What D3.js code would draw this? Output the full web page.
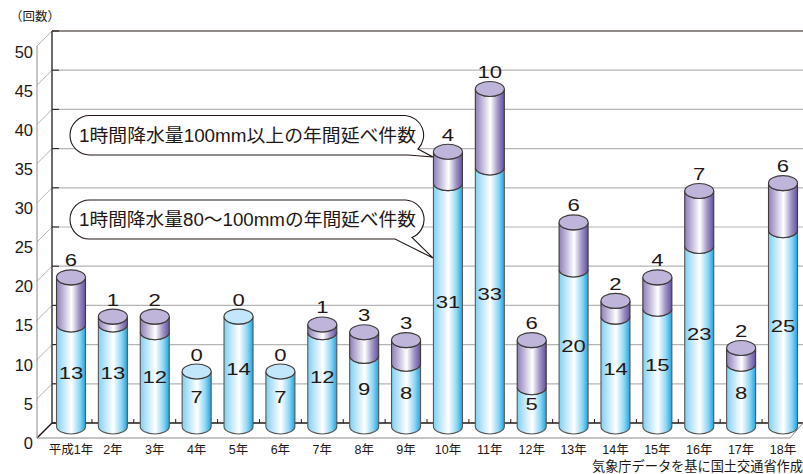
<!DOCTYPE html>
<html>
<head>
<meta charset="utf-8">
<script src="https://cdn.jsdelivr.net/npm/d3@7"></script>
<style>
  body { margin: 0; background: #fff; }
  svg { display: block; }
  text { font-family: "Liberation Sans", "Noto Sans CJK JP", sans-serif; fill: #231815; }
</style>
</head>
<body>
<svg id="chart"></svg>
<script>
var years = ["平成1年", "2年", "3年", "4年", "5年", "6年", "7年", "8年", "9年", "10年", "11年", "12年", "13年", "14年", "15年", "16年", "17年", "18年"];
var lower = [13, 13, 12, 7, 14, 7, 12, 9, 8, 31, 33, 5, 20, 14, 15, 23, 8, 25];
var upper = [6, 1, 2, 0, 0, 0, 1, 3, 3, 4, 10, 6, 6, 2, 4, 7, 2, 6];
var yTicks = [0, 5, 10, 15, 20, 25, 30, 35, 40, 45, 50];
var calloutTop = "1時間降水量100mm以上の年間延べ件数";
var calloutLow = "1時間降水量80〜100mmの年間延べ件数";
var unitLabel = "（回数）";
var sourceLabel = "気象庁データを基に国土交通省作成";

var svgWidth = 803, svgHeight = 474;
var svg = d3.select("#chart").attr("width", svgWidth).attr("height", svgHeight);

var wallX = 52, sideX = 37, depth = 15;
var rx = 14.5, ry = 7.5;

// back wall scale, bars sit a little in front of it
var yWall = d3.scaleLinear().domain([0, 50]).range([423, 31]);
var yBar = d3.scaleLinear().domain([0, 50]).range([426.5, 34]);
var x = d3.scalePoint().domain(years).range([71, 783]);

// gradients
var defs = svg.append("defs");
function addGrad(id, stops) {
  var g = defs.append("linearGradient").attr("id", id);
  stops.forEach(function (s) {
    g.append("stop").attr("offset", s[0]).attr("stop-color", s[1]);
  });
}
addGrad("blue", [[0, "#7fd0f2"], [0.2, "#b4e3f8"], [0.52, "#ffffff"], [0.8, "#8ed6f5"], [1, "#1ea5de"]]);
addGrad("purple", [[0, "#8f80b8"], [0.2, "#b9aed4"], [0.52, "#ffffff"], [0.78, "#a094c4"], [1, "#6350a0"]]);

// grid + walls
var grid = svg.append("g");
grid.selectAll("line.grid")
  .data(yTicks.filter(function (d) { return d > 0; }))
  .enter().append("line")
  .attr("x1", wallX).attr("x2", svgWidth)
  .attr("y1", function (d) { return yWall(d); })
  .attr("y2", function (d) { return yWall(d); })
  .attr("stroke", function (d) { return d == 50 ? "#231815" : "#b5b5b5"; })
  .attr("stroke-width", 1.2);

grid.selectAll("line.diag")
  .data(yTicks)
  .enter().append("line")
  .attr("x1", sideX).attr("x2", wallX)
  .attr("y1", function (d) { return yWall(d) + depth; })
  .attr("y2", function (d) { return yWall(d); })
  .attr("stroke", function (d) { return d == 0 ? "#231815" : "#b5b5b5"; })
  .attr("stroke-width", function (d) { return d == 0 ? 1.5 : 1; });

grid.selectAll("line.tick")
  .data(yTicks)
  .enter().append("line")
  .attr("x1", wallX).attr("x2", wallX + 7)
  .attr("y1", function (d) { return yWall(d); })
  .attr("y2", function (d) { return yWall(d); })
  .attr("stroke", "#231815").attr("stroke-width", 1);

grid.append("line").attr("x1", sideX).attr("x2", sideX)
  .attr("y1", yWall(50) + depth).attr("y2", yWall(0) + depth)
  .attr("stroke", "#8c8c8c").attr("stroke-width", 1);
grid.append("line").attr("x1", wallX).attr("x2", wallX)
  .attr("y1", yWall(50)).attr("y2", yWall(0))
  .attr("stroke", "#3e3a39").attr("stroke-width", 1.5);
grid.append("line").attr("x1", wallX).attr("x2", svgWidth)
  .attr("y1", yWall(0)).attr("y2", yWall(0))
  .attr("stroke", "#231815").attr("stroke-width", 1.5);
grid.append("polyline")
  .attr("points", [[sideX, yWall(0) + depth], [svgWidth - depth + 2, yWall(0) + depth], [svgWidth, yWall(0)]].join(" "))
  .attr("fill", "none").attr("stroke", "#8c8c8c").attr("stroke-width", 1);

// floor ticks between bars
var step = x.step();
grid.selectAll("line.ftick")
  .data(years)
  .enter().append("line")
  .attr("x1", function (d) { return x(d) + step / 2; })
  .attr("x2", function (d) { return x(d) + step / 2; })
  .attr("y1", yWall(0) - 4).attr("y2", yWall(0))
  .attr("stroke", "#231815").attr("stroke-width", 1);

// y axis labels, shifted off the wall
var yLabel = d3.scaleLinear().domain([0, 50]).range([443, 52]);
var axis = svg.append("g")
  .attr("transform", "translate(33,0)")
  .call(d3.axisLeft(yLabel).tickValues(yTicks).tickSize(0).tickPadding(0).tickFormat(d3.format("d")));
axis.select(".domain").remove();
axis.selectAll("text").style("font-size", "16.5px").style("font-family", "'Liberation Sans'").attr("fill", "#231815");

// cylinder body path between two values
function body(cx, top, bottom) {
  return "M" + (cx - rx) + "," + top +
    "L" + (cx - rx) + "," + bottom +
    "A" + rx + "," + ry + " 0 0 0 " + (cx + rx) + "," + bottom +
    "L" + (cx + rx) + "," + top +
    "A" + rx + "," + ry + " 0 0 1 " + (cx - rx) + "," + top + "Z";
}

var bars = svg.append("g").selectAll("g")
  .data(years.map(function (d, i) { return { year: d, low: lower[i], up: upper[i] }; }))
  .enter().append("g");

bars.append("path")
  .attr("d", function (d) { return body(x(d.year), yBar(d.low), yBar(0)); })
  .attr("fill", "url(#blue)").attr("stroke", "#595757").attr("stroke-width", 1.1);

bars.filter(function (d) { return d.up > 0; }).append("path")
  .attr("d", function (d) { return body(x(d.year), yBar(d.low + d.up), yBar(d.low)); })
  .attr("fill", "url(#purple)").attr("stroke", "#3e3a39").attr("stroke-width", 1.1);

bars.append("ellipse")
  .attr("cx", function (d) { return x(d.year); })
  .attr("cy", function (d) { return yBar(d.low + d.up); })
  .attr("rx", rx).attr("ry", ry)
  .attr("fill", function (d) { return d.up > 0 ? "#bfb5da" : "#c3e7fa"; })
  .attr("stroke", "#3e3a39").attr("stroke-width", 1.1);

// wide digits, as in the original lettering
function numLabel(sel, xf, yf, txt) {
  sel.append("text")
    .attr("transform", function (d) { return "translate(" + xf(d) + "," + yf(d) + ") scale(1.3,1)"; })
    .attr("text-anchor", "middle")
    .style("font-size", "17px")
    .style("font-family", "'Liberation Sans'")
    .text(txt);
}
numLabel(bars, function (d) { return x(d.year); }, function (d) { return yBar(d.low / 2) + 3.5; }, function (d) { return d.low; });
numLabel(bars, function (d) { return x(d.year); }, function (d) { return yBar(d.low + d.up) - 11; }, function (d) { return d.up; });

// x labels
svg.append("g").selectAll("text")
  .data(years)
  .enter().append("text")
  .attr("x", function (d) { return x(d); })
  .attr("y", 454)
  .attr("text-anchor", "middle")
  .style("font-size", "12.5px")
  .text(function (d) { return d; });

// callouts
function callout(top, bottom, tail, label) {
  var l = 70, r = 425, h = bottom - top, rr = h / 2;
  var p = "M" + (l + rr) + "," + top + "L" + (r - rr) + "," + top +
    "A" + rr + "," + rr + " 0 0 1 " + tail[0][0] + "," + tail[0][1] +
    "L" + tail[1][0] + "," + tail[1][1] +
    "L" + tail[2][0] + "," + tail[2][1] +
    "L" + (l + rr) + "," + bottom +
    "A" + rr + "," + rr + " 0 0 1 " + (l + rr) + "," + top + "Z";
  svg.append("path").attr("d", p).attr("fill", "#fff").attr("stroke", "#231815").attr("stroke-width", 1.1);
  svg.append("text")
    .attr("x", 79).attr("y", (top + bottom) / 2 + 6.5)
    .attr("textLength", 337).attr("lengthAdjust", "spacingAndGlyphs")
    .style("font-size", "18px")
    .text(label);
}
callout(115.5, 155, [[418, 149], [433, 157], [408, 155]], calloutTop);
callout(200, 239, [[412, 237.5], [433, 258], [395, 239]], calloutLow);

svg.append("text").attr("x", 10).attr("y", 21)
  .style("font-size", "12.5px").text(unitLabel);
svg.append("text").attr("x", 803).attr("y", 470.5)
  .attr("text-anchor", "end").style("font-size", "13.2px").text(sourceLabel);
</script>
</body>
</html>
